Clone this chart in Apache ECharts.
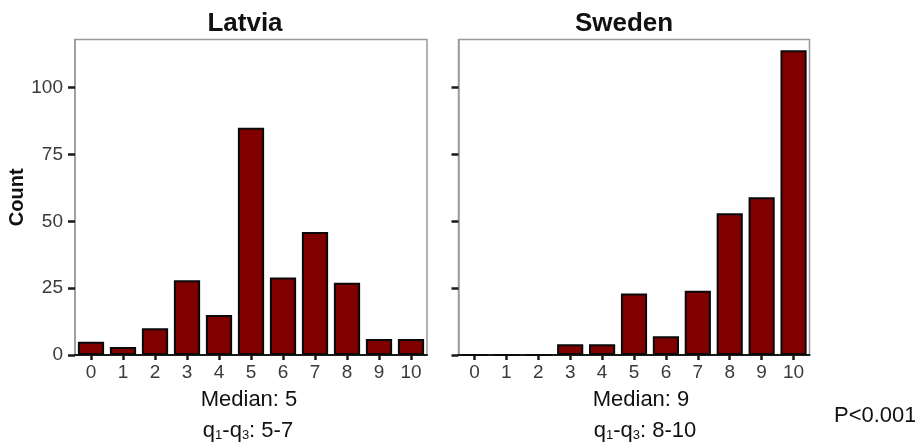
<!DOCTYPE html>
<html><head><meta charset="utf-8">
<script src="https://cdn.jsdelivr.net/npm/echarts@6/dist/echarts.min.js"></script>
<style>html,body{margin:0;padding:0;background:#fff}#c{width:915px;height:442px}</style>
</head><body><div id="c"></div>
<script>
const categories = ['0','1','2','3','4','5','6','7','8','9','10'];
const latviaCounts = [5, 3, 10, 28, 15, 85, 29, 46, 27, 6, 6];
const swedenCounts = [0, 0, 0, 4, 4, 23, 7, 24, 53, 59, 114];
const yTicks = [0, 25, 50, 75, 100];
const panelTitles = ['Latvia', 'Sweden'];
const medianTexts = ['Median: 5', 'Median: 9'];
const quartileTexts = ['5-7', '8-10'];
const yAxisName = 'Count';
const pValueText = 'P<0.001';

const FONT = '"Liberation Sans", Arial, sans-serif';
const grids = [
  {left: 75, right: 488, top: 39.5, bottom: 87},
  {left: 458.5, right: 105.5, top: 39.5, bottom: 87}
];
const titleCenters = [245, 624];
const medianCenters = [249, 641];
const quartCenters = [248, 645];

function xAxisFor(i) {
  return {
    type: 'category', gridIndex: i, data: categories,
    boundaryGap: true,
    axisLine: {show: true, lineStyle: {color: '#1a1a1a', width: 2}},
    axisTick: {show: true, alignWithLabel: true, length: 5, lineStyle: {color: '#1a1a1a', width: 2.5}},
    axisLabel: {show: true, margin: 8, color: '#3a3a3a', fontSize: 19, fontFamily: FONT},
    splitLine: {show: false}
  };
}
function yAxisFor(i) {
  return {
    type: 'value', gridIndex: i, min: 0, max: 118, interval: 25,
    name: i === 0 ? yAxisName : '',
    nameLocation: 'middle', nameGap: 48,
    nameTextStyle: {fontSize: 20, fontWeight: 'bold', color: '#111', fontFamily: FONT},
    axisLine: {show: true, lineStyle: {color: '#9a9a9a', width: 1.5}},
    axisTick: {show: true, length: 7, customValues: yTicks, lineStyle: {color: '#1a1a1a', width: 2.5}},
    axisLabel: {show: i === 0, margin: 12, customValues: yTicks, color: '#3a3a3a', fontSize: 19, fontFamily: FONT},
    splitLine: {show: false}
  };
}
function barSeries(i, data) {
  return {
    type: 'bar', xAxisIndex: i, yAxisIndex: i, data: data,
    barCategoryGap: '18%',
    itemStyle: {color: '#800000', borderColor: '#0a0a0a', borderWidth: 2},
    silent: true, animation: false
  };
}
const titles = [];
for (let i = 0; i < 2; i++) {
  titles.push({text: panelTitles[i], left: titleCenters[i], top: 10.5, textAlign: 'center', padding: 0,
    textStyle: {fontSize: 26, fontWeight: 'bold', color: '#111', fontFamily: FONT}});
  titles.push({text: medianTexts[i], left: medianCenters[i], top: 389, textAlign: 'center', padding: 0,
    textStyle: {fontSize: 22, fontWeight: 'normal', color: '#111', fontFamily: FONT}});
  titles.push({text: '{t|q}{s|1}{t|-q}{s|3}{t|: ' + quartileTexts[i] + '}', left: quartCenters[i], top: 416, textAlign: 'center', padding: 0,
    textStyle: {fontFamily: FONT, fontWeight: 'normal', rich: {
      t: {fontSize: 22, lineHeight: 26, fontWeight: 'normal', verticalAlign: 'bottom', color: '#111', fontFamily: FONT},
      s: {fontSize: 13, lineHeight: 8, fontWeight: 'normal', verticalAlign: 'bottom', color: '#111', fontFamily: FONT}
    }}});
}
titles.push({text: pValueText, left: 834, top: 405, padding: 0,
  textStyle: {fontSize: 22, fontWeight: 'normal', color: '#111', fontFamily: FONT}});

const chart = echarts.init(document.getElementById('c'), null, {renderer: 'canvas'});
chart.setOption({
  animation: false,
  backgroundColor: '#fff',
  title: titles,
  grid: grids.map(g => Object.assign({show: true, borderColor: '#9a9a9a', borderWidth: 1.5, backgroundColor: 'transparent'}, g)),
  xAxis: [xAxisFor(0), xAxisFor(1)],
  yAxis: [yAxisFor(0), yAxisFor(1)],
  series: [barSeries(0, latviaCounts), barSeries(1, swedenCounts)]
});
</script>
</body></html>
